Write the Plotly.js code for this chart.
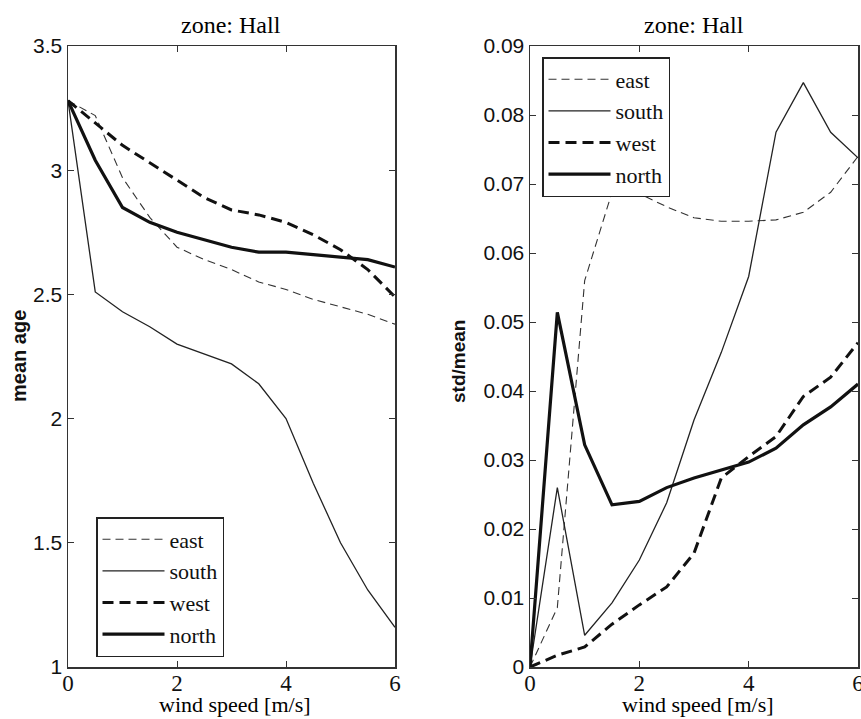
<!DOCTYPE html>
<html>
<head>
<meta charset="utf-8">
<script src="https://cdn.plot.ly/plotly-3.0.1.min.js"></script>
<style>html,body{margin:0;padding:0;background:#fff;}#chart{width:861px;height:719px;}</style>
</head>
<body>
<div id="chart"></div>
<script>
// wind speed [m/s]
var windSpeed = [0, 0.5, 1, 1.5, 2, 2.5, 3, 3.5, 4, 4.5, 5, 5.5, 6];
var seriesNames = ["east", "south", "west", "north"];

// left panel: mean age
var meanAgeEast  = [3.28, 3.22, 2.97, 2.81, 2.69, 2.64, 2.60, 2.55, 2.52, 2.48, 2.45, 2.42, 2.38];
var meanAgeSouth = [3.28, 2.51, 2.43, 2.37, 2.30, 2.26, 2.22, 2.14, 2.00, 1.74, 1.50, 1.31, 1.16];
var meanAgeWest  = [3.28, 3.19, 3.10, 3.03, 2.96, 2.89, 2.84, 2.82, 2.79, 2.74, 2.68, 2.60, 2.49];
var meanAgeNorth = [3.28, 3.04, 2.85, 2.79, 2.75, 2.72, 2.69, 2.67, 2.67, 2.66, 2.65, 2.64, 2.61];

// right panel: std/mean
var stdMeanEast  = [0, 0.0086, 0.0560, 0.0688, 0.0686, 0.0667, 0.0651, 0.0646, 0.0646, 0.0648, 0.0659, 0.0688, 0.0740];
var stdMeanSouth = [0, 0.0260, 0.0046, 0.0093, 0.0155, 0.0238, 0.0358, 0.0456, 0.0566, 0.0775, 0.0847, 0.0775, 0.0738];
var stdMeanWest  = [0, 0.0017, 0.0029, 0.0062, 0.0090, 0.0116, 0.0165, 0.0274, 0.0305, 0.0334, 0.0392, 0.0420, 0.0470];
var stdMeanNorth = [0, 0.0514, 0.0322, 0.0235, 0.0240, 0.0260, 0.0274, 0.0286, 0.0297, 0.0317, 0.0351, 0.0377, 0.0410];

var xTickVals = [0, 2, 4, 6];
var titleText = "zone: Hall";
var xTitleText = "wind speed [m/s]";
var yTitleLeft = "mean age";
var yTitleRight = "std/mean";

var styles = [
  {color: "#333", width: 1.1, dash: "8px,5px"},
  {color: "#222", width: 1.3, dash: "solid"},
  {color: "#111", width: 3.0, dash: "11px,6px"},
  {color: "#111", width: 3.2, dash: "solid"}
];

function mk(y, i, xa, ya, leg) {
  return {x: windSpeed, y: y, name: seriesNames[i], type: "scatter", mode: "lines",
          line: styles[i], xaxis: xa, yaxis: ya, legend: leg};
}

var data = [
  mk(meanAgeEast, 0, "x", "y", "legend"),
  mk(meanAgeSouth, 1, "x", "y", "legend"),
  mk(meanAgeWest, 2, "x", "y", "legend"),
  mk(meanAgeNorth, 3, "x", "y", "legend"),
  mk(stdMeanEast, 0, "x2", "y2", "legend2"),
  mk(stdMeanSouth, 1, "x2", "y2", "legend2"),
  mk(stdMeanWest, 2, "x2", "y2", "legend2"),
  mk(stdMeanNorth, 3, "x2", "y2", "legend2")
];

var W = 861, H = 719;
var serif = "Liberation Serif, Times New Roman, serif";
var sans = "Liberation Sans, Arial, sans-serif";

function xax(dom, anchor) {
  return {domain: dom, anchor: anchor, range: [0, 6], tickvals: xTickVals, ticks: "inside", ticklen: 6,
          tickcolor: "#333", showline: true, linecolor: "#333", linewidth: 1.5, mirror: "ticks",
          ticklabeloverflow: "allow", ticklabelstandoff: -5,
          showgrid: false, zeroline: false, tickfont: {family: serif, size: 23, color: "#111"}, fixedrange: true};
}
function yax(dom, anchor, rng, dt) {
  return {domain: dom, anchor: anchor, range: rng, dtick: dt, ticks: "inside", ticklen: 6,
          tickcolor: "#333", showline: true, linecolor: "#333", linewidth: 1.5, mirror: "ticks",
          showgrid: false, zeroline: false, tickfont: {family: sans, size: 21, color: "#111"}, fixedrange: true};
}

var yDom = [1 - 667 / H, 1 - 46 / H];
var xDomL = [68 / W, 395 / W];
var xDomR = [530 / W, 858 / W];

var legendBase = {bgcolor: "#fff", bordercolor: "#222", borderwidth: 1.5, itemwidth: 62,
                  font: {family: serif, size: 22, color: "#111"}, xanchor: "left", yanchor: "top",
                  tracegroupgap: 0};

var layout = {
  width: W, height: H,
  margin: {l: 0, r: 0, t: 0, b: 0},
  paper_bgcolor: "#fff", plot_bgcolor: "#fff",
  showlegend: true,
  xaxis: xax(xDomL, "y"),
  yaxis: yax(yDom, "x", [1, 3.5], 0.5),
  xaxis2: xax(xDomR, "y2"),
  yaxis2: yax(yDom, "x2", [0, 0.09], 0.01),
  legend: Object.assign({}, legendBase, {x: 96 / W, y: 1 - 517 / H}),
  legend2: Object.assign({}, legendBase, {x: 542 / W, y: 1 - 57 / H}),
  annotations: [
    {text: titleText, xref: "paper", yref: "paper", x: 231 / W, y: 1 - 25 / H, xanchor: "center", yanchor: "middle", showarrow: false, font: {family: serif, size: 24, color: "#000"}},
    {text: titleText, xref: "paper", yref: "paper", x: 694 / W, y: 1 - 25 / H, xanchor: "center", yanchor: "middle", showarrow: false, font: {family: serif, size: 24, color: "#000"}},
    {text: xTitleText, xref: "paper", yref: "paper", x: 235 / W, y: 0, xanchor: "center", yanchor: "bottom", showarrow: false, font: {family: serif, size: 22, color: "#000"}},
    {text: xTitleText, xref: "paper", yref: "paper", x: 698 / W, y: 0, xanchor: "center", yanchor: "bottom", showarrow: false, font: {family: serif, size: 22, color: "#000"}},
    {text: yTitleLeft, xref: "paper", yref: "paper", x: 19 / W, y: 1 - 356 / H, xanchor: "center", yanchor: "middle", textangle: -90, showarrow: false, font: {family: sans, size: 20, color: "#111", weight: "bold"}},
    {text: yTitleRight, xref: "paper", yref: "paper", x: 458 / W, y: 1 - 361 / H, xanchor: "center", yanchor: "middle", textangle: -90, showarrow: false, font: {family: sans, size: 19, color: "#111", weight: "bold"}}
  ]
};

Plotly.newPlot("chart", data, layout, {displayModeBar: false, staticPlot: true});
</script>
</body>
</html>
